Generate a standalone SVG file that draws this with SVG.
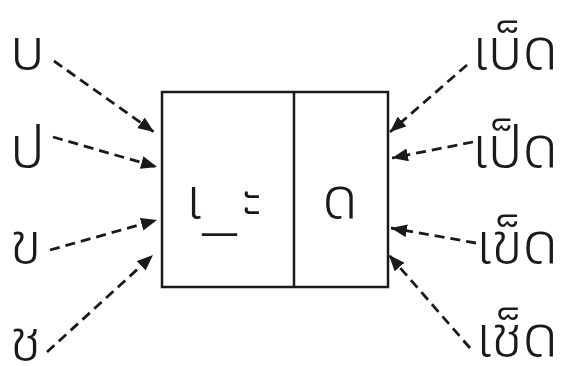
<svg xmlns="http://www.w3.org/2000/svg" width="562" height="366" viewBox="0 0 562 366">
<style>
text{font-family:"Noto Sans Thai","Noto Sans",sans-serif;font-weight:350;font-size:58px;fill:#1a1a1a}
.c{stroke:#1a1a1a;stroke-width:2.8;stroke-dasharray:10 6;fill:none}
.box{fill:#fff;stroke:#1a1a1a;stroke-width:2.5}
</style>
<defs>
<marker id="ah" viewBox="0 0 16 13" refX="16" refY="6.5" markerWidth="16" markerHeight="13" markerUnits="userSpaceOnUse" orient="auto">
<path d="M0,0 L16,6.5 L0,13 Z" fill="#1a1a1a"/>
</marker>
</defs>
<rect width="562" height="366" fill="#fff"/>
<g id="box">
<rect class="box" x="162" y="92" width="226" height="195"/>
<line x1="294" y1="92" x2="294" y2="287" stroke="#1a1a1a" stroke-width="2.5"/>
<text y="218"><tspan x="186">เ</tspan><tspan x="202" y="228" textLength="35" lengthAdjust="spacingAndGlyphs">_</tspan><tspan x="242" y="218">ะ</tspan></text>
<text x="340" y="218" text-anchor="middle">ด</text>
</g>
<g id="l1"><text x="10" y="69">บ</text></g>
<g id="l2"><text x="10" y="167">ป</text></g>
<g id="l3"><text x="10" y="263">ข</text></g>
<g id="l4"><text x="10" y="360">ช</text></g>
<g id="r1"><text x="558" y="69" text-anchor="end">เบ็ด</text></g>
<g id="r2"><text x="558" y="167" text-anchor="end">เป็ด</text></g>
<g id="r3"><text x="558" y="263" text-anchor="end">เข็ด</text></g>
<g id="r4"><text x="558" y="356" text-anchor="end">เช็ด</text></g>
<g id="connectors">
<path class="c" d="M54,61 L154,132" marker-end="url(#ah)"/>
<path class="c" d="M53,137 L157,167" marker-end="url(#ah)"/>
<path class="c" d="M50,250 L157,220" marker-end="url(#ah)"/>
<path class="c" d="M47,352 L153,255" marker-end="url(#ah)"/>
<path class="c" d="M467,65 L390,132" marker-end="url(#ah)"/>
<path class="c" d="M473,142 L392,158" marker-end="url(#ah)"/>
<path class="c" d="M476,243 L391,228" marker-end="url(#ah)"/>
<path class="c" d="M470,348 L389,255" marker-end="url(#ah)"/>
</g>
</svg>
